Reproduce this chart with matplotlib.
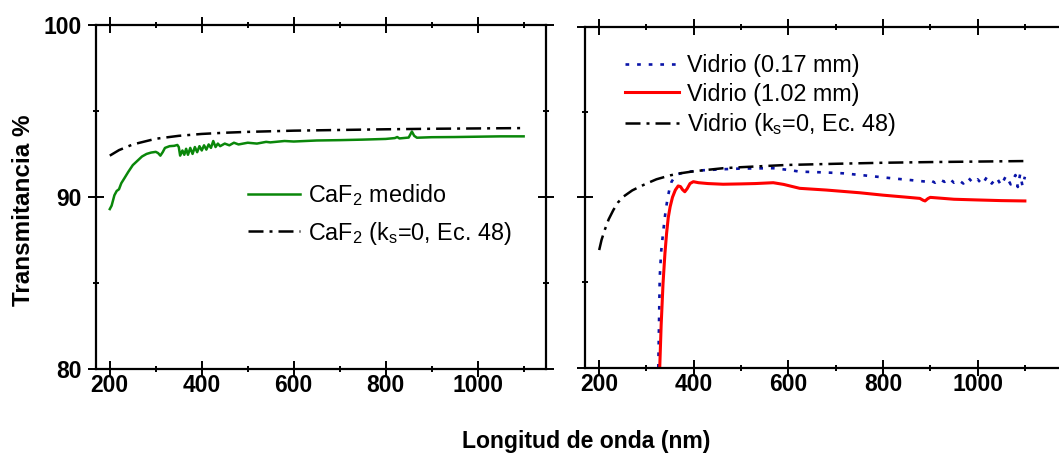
import matplotlib
matplotlib.use("Agg")
import matplotlib.pyplot as plt
from matplotlib.ticker import MultipleLocator

plt.rcParams['font.family'] = ['Liberation Sans', 'DejaVu Sans']
plt.rcParams['mathtext.fontset'] = 'custom'
plt.rcParams['mathtext.rm'] = 'Liberation Sans'
plt.rcParams['mathtext.it'] = 'Liberation Sans'
plt.rcParams['mathtext.bf'] = 'Liberation Sans:bold'

# ---------------- data ----------------
caf2_meas_x = [200, 204, 210, 215, 220, 225, 232, 240, 250, 260, 270, 280, 290, 300, 305, 310,
               315, 320, 330, 340, 347, 350, 353, 358, 362, 366, 370, 375, 380, 385, 390, 395,
               400, 405, 410, 415, 420, 425, 430, 435, 440, 450, 460, 470, 480, 500, 520, 540,
               549, 580, 600, 650, 700, 750, 800, 820, 825, 830, 850, 857, 862, 868, 900, 950,
               1000, 1050, 1100]
caf2_meas_y = [89.3, 89.5, 90.1, 90.35, 90.45, 90.8, 91.1, 91.45, 91.85, 92.1, 92.35, 92.5, 92.58,
               92.62, 92.55, 92.4, 92.6, 92.85, 92.95, 92.97, 93.02, 92.9, 92.4, 92.7, 92.45, 92.8,
               92.45, 92.85, 92.5, 92.9, 92.6, 92.95, 92.7, 93.0, 92.75, 93.05, 92.85, 93.25, 92.9,
               93.1, 92.95, 93.1, 93.0, 93.15, 93.05, 93.15, 93.1, 93.2, 93.17, 93.25, 93.22, 93.28,
               93.3, 93.33, 93.37, 93.42, 93.48, 93.4, 93.45, 93.8, 93.55, 93.44, 93.47, 93.48,
               93.5, 93.52, 93.52]

caf2_theo_x = [200, 220, 250, 300, 350, 400, 450, 500, 600, 700, 800, 900, 1000, 1100]
caf2_theo_y = [92.4, 92.72, 93.05, 93.38, 93.55, 93.66, 93.73, 93.78, 93.85, 93.89, 93.93, 93.96,
               93.98, 94.0]

glass_theo_x = [200, 205, 212, 220, 230, 240, 251, 270, 286, 300, 321, 350, 371, 400, 462, 500,
                596, 700, 800, 900, 1000, 1100]
glass_theo_y = [86.9, 87.5, 88.1, 88.7, 89.25, 89.7, 90.03, 90.4, 90.62, 90.8, 91.05, 91.28, 91.4,
                91.52, 91.7, 91.76, 91.89, 91.96, 92.02, 92.06, 92.09, 92.12]

glass017_x = [325, 328, 331, 335, 340, 344, 348, 353, 360, 367, 380, 392, 420, 462, 500, 568, 600,
              624, 680, 716, 760, 822, 860, 892, 900, 910, 920, 930, 940, 950, 960, 970, 980, 990,
              1000, 1010, 1020, 1030, 1040, 1050, 1060, 1070, 1080, 1085, 1090, 1095, 1100]
glass017_y = [80.0, 85.3, 86.8, 87.9, 89.1, 89.84, 90.4, 90.91, 91.2, 91.36, 91.45, 91.5, 91.58,
              91.64, 91.68, 91.7, 91.6, 91.5, 91.45, 91.4, 91.28, 91.1, 91.0, 90.91, 91.0, 90.85,
              91.05, 90.9, 91.1, 90.85, 91.0, 90.8, 91.15, 90.85, 91.05, 90.75, 91.2, 90.8, 91.15,
              90.7, 91.25, 90.75, 91.3, 90.6, 91.35, 90.65, 91.2]

glass102_x = [328, 331, 335, 339, 342.5, 346, 350, 355, 361, 367, 372, 376, 381, 386, 392, 399,
              410, 430, 462, 500, 530, 568, 590, 624, 680, 751, 800, 850, 878, 885, 889, 895, 900,
              950, 998, 1050, 1100]
glass102_y = [80.0, 82.5, 84.95, 86.7, 87.88, 88.8, 89.44, 90.0, 90.42, 90.66, 90.62, 90.45,
              90.32, 90.5, 90.8, 90.91, 90.85, 90.8, 90.76, 90.78, 90.8, 90.85, 90.75, 90.52,
              90.42, 90.26, 90.12, 90.0, 89.93, 89.82, 89.78, 89.92, 89.99, 89.88, 89.84, 89.8,
              89.78]

x_ticks = [200, 400, 600, 800, 1000]
y_ticks = [80, 90, 100]

# ---------------- figure ----------------
W, H = 1059, 455
fig = plt.figure(figsize=(W / 100, H / 100), dpi=100)

def px_axes(x0, x1, ytop, ybot):
    return [x0 / W, (H - ybot) / H, (x1 - x0) / W, (ybot - ytop) / H]

axL = fig.add_axes(px_axes(96, 545.7, 24.7, 369.3))
axR = fig.add_axes(px_axes(585, 1070, 26.7, 367.7))

dashdot = (0, (6, 2.4, 1.2, 2.4))

axL.plot(caf2_meas_x, caf2_meas_y, color='#0a870a', lw=1.8, label=r'CaF$_2$ medido')
axL.plot(caf2_theo_x, caf2_theo_y, color='black', lw=1.8, linestyle=dashdot,
         label=r'CaF$_2$ (k$_\mathrm{s}$=0, Ec. 48)')

axR.plot(glass017_x, glass017_y, color='#0a14a8', lw=1.9, linestyle=(0, (1.4, 3.0)),
         label='Vidrio (0.17 mm)')
axR.plot(glass102_x, glass102_y, color='#ff0000', lw=2.2, label='Vidrio (1.02 mm)')
axR.plot(glass_theo_x, glass_theo_y, color='black', lw=1.8, linestyle=dashdot,
         label=r'Vidrio (k$_\mathrm{s}$=0, Ec. 48)')

for ax, xmax in ((axL, 1148), (axR, 1195.4)):
    ax.set_xlim(170, xmax)
    ax.set_ylim(80, 100)
    ax.set_xticks(x_ticks)
    ax.set_yticks(y_ticks)
    ax.xaxis.set_minor_locator(MultipleLocator(100))
    ax.yaxis.set_minor_locator(MultipleLocator(5))
    ax.tick_params(which='both', direction='inout', top=True, right=True, width=1.4)
    ax.tick_params(which='major', length=11.5)
    ax.tick_params(which='minor', length=4.5)
    ax.tick_params(axis='x', which='major', pad=-2.2, labelsize=16.5)
    ax.tick_params(axis='y', which='major', pad=4.5, labelsize=16.5)
    for lab in ax.get_xticklabels() + ax.get_yticklabels():
        lab.set_fontweight('bold')
    for s in ax.spines.values():
        s.set_linewidth(1.6)
    ax.set_facecolor('none')

axR.set_yticklabels([])
axR.set_xticklabels([str(v) for v in x_ticks], fontweight='bold')

legL = axL.legend(loc='upper left', bbox_to_anchor=(0.337, 0.5435), frameon=False,
                  fontsize=16.8, handlelength=2.25, handletextpad=0.34, borderpad=0,
                  borderaxespad=0, labelspacing=0.5)
legR = axR.legend(loc='upper left', bbox_to_anchor=(0.0825, 0.920), frameon=False,
                  fontsize=16.8, handlelength=2.3, handletextpad=0.35, borderpad=0,
                  borderaxespad=0, labelspacing=0.24)

fig.text(24 / W, (H - 210) / H, 'Transmitancia %', rotation=90, ha='center', va='center',
         fontsize=17.5, fontweight='bold')
fig.text(586.5 / W, (H - 448) / H, 'Longitud de onda (nm)', ha='center', va='baseline',
         fontsize=16.6, fontweight='bold')

fig.savefig('out.png', dpi=100)
